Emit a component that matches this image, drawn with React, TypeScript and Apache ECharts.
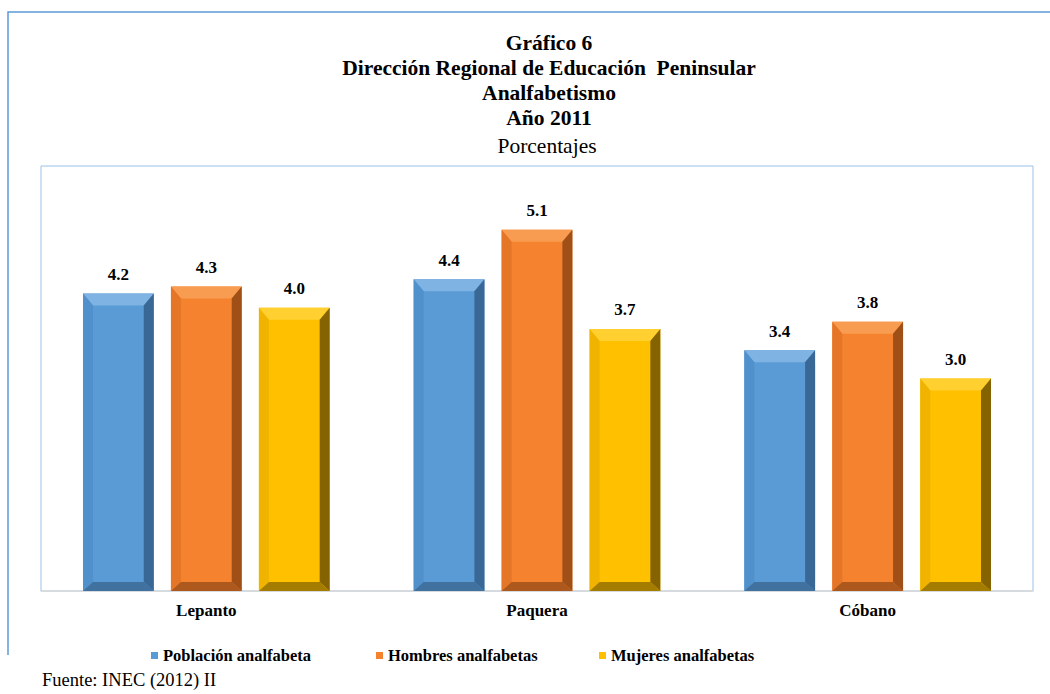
import React, { useEffect, useRef } from "react";
import * as echarts from "echarts";

const categories = ["Lepanto", "Paquera", "Cóbano"];
const seriesNames = ["Población analfabeta", "Hombres analfabetas", "Mujeres analfabetas"];
const poblacion = [4.2, 4.4, 3.4];
const hombres = [4.3, 5.1, 3.8];
const mujeres = [4.0, 3.7, 3.0];
const titleLines = ["Gráfico 6", "Dirección Regional de Educación  Peninsular", "Analfabetismo", "Año 2011"];
const subtitle = "Porcentajes";
const source = "Fuente: INEC (2012) II";

const palettes = [
  { face: "#5b9bd5", top: "#7fb3e4", left: "#5090cb", right: "#3a6896", bottom: "#41719f" },
  { face: "#f5822e", top: "#f89c52", left: "#e57628", right: "#a04f17", bottom: "#ad581c" },
  { face: "#ffc000", top: "#ffd030", left: "#f0b400", right: "#846300", bottom: "#a47c00" },
];

const SERIF = "Liberation Serif";

export default function App() {
  const ref = useRef<HTMLDivElement>(null);
  useEffect(() => {
    if (!ref.current) return;
    const chart = echarts.init(ref.current, undefined, { renderer: "svg" });
    const allValues = [poblacion, hombres, mujeres];

    const makeSeries = (s: number) => ({
      type: "custom",
      name: seriesNames[s],
      itemStyle: { color: palettes[s].face },
      encode: { x: 0, y: 1 },
      data: allValues[s].map((v, i) => [i, v]),
      renderItem: (params: any, api: any) => {
        const i = api.value(0);
        const v = api.value(1);
        const top = api.coord([i, v]);
        const base = api.coord([i, 0]);
        const band = api.size([1, 0])[0];
        const w = band * 0.214;
        const cx = top[0] + (s - 1) * band * 0.266;
        const x0 = cx - w / 2;
        const x1 = cx + w / 2;
        const y0 = top[1];
        const y1 = base[1];
        const h = y1 - y0;
        const bt = Math.min(12, h / 3);
        const bb = Math.min(9, h / 3);
        const bs = 10;
        const p = palettes[s];
        return {
          type: "group",
          children: [
            { type: "rect", shape: { x: x0, y: y0, width: w, height: h }, style: { fill: p.face } },
            { type: "polygon", shape: { points: [[x0, y0], [x1, y0], [x1 - bs, y0 + bt], [x0 + bs, y0 + bt]] }, style: { fill: p.top } },
            { type: "polygon", shape: { points: [[x0, y0], [x0 + bs, y0 + bt], [x0 + bs, y1 - bb], [x0, y1]] }, style: { fill: p.left } },
            { type: "polygon", shape: { points: [[x1, y0], [x1, y1], [x1 - bs, y1 - bb], [x1 - bs, y0 + bt]] }, style: { fill: p.right } },
            { type: "polygon", shape: { points: [[x0, y1], [x0 + bs, y1 - bb], [x1 - bs, y1 - bb], [x1, y1]] }, style: { fill: p.bottom } },
            {
              type: "text",
              style: {
                text: v.toFixed(1),
                x: cx,
                y: y0 - 19,
                align: "center",
                verticalAlign: "middle",
                fill: "#000",
                fontFamily: SERIF,
                fontWeight: "bold",
                fontSize: 17,
              },
            },
          ],
        };
      },
    });

    const legendLefts = [146, 371, 594];

    chart.setOption({
      animation: false,
      backgroundColor: "#ffffff",
      grid: {
        left: 41,
        top: 166,
        right: 17,
        bottom: 103,
        show: true,
        borderColor: "#9cc2e8",
        borderWidth: 1,
      },
      xAxis: {
        type: "category",
        data: categories,
        axisLine: { show: true, lineStyle: { color: "#d9d9d9", width: 1.5 } },
        axisTick: { show: false },
        axisLabel: {
          margin: 11,
          color: "#000",
          fontFamily: SERIF,
          fontWeight: "bold",
          fontSize: 17,
        },
      },
      yAxis: {
        type: "value",
        min: 0,
        max: 6,
        show: false,
        splitLine: { show: false },
      },
      legend: seriesNames.map((n, k) => ({
        data: [n],
        left: legendLefts[k],
        top: 642,
        icon: "rect",
        itemWidth: 7,
        itemHeight: 7,
        itemGap: 4,
        textStyle: { color: "#000", fontFamily: SERIF, fontWeight: "bold", fontSize: 16.5 },
      })),
      graphic: [
        {
          type: "polyline",
          shape: { points: [[8, 655], [8, 12], [1050, 12]] },
          style: { stroke: "#5b9bd5", lineWidth: 1.5, fill: "none" },
          silent: true,
        },
        ...titleLines.map((t, k) => ({
          type: "text",
          style: {
            text: t,
            x: 549,
            y: 43 + k * 25,
            align: "center",
            verticalAlign: "middle",
            fill: "#000",
            fontFamily: SERIF,
            fontWeight: "bold",
            fontSize: 21.5,
          },
        })),
        {
          type: "text",
          style: {
            text: subtitle,
            x: 547,
            y: 146,
            align: "center",
            verticalAlign: "middle",
            fill: "#000",
            fontFamily: SERIF,
            fontSize: 21.5,
          },
        },
        {
          type: "text",
          style: {
            text: source,
            x: 42,
            y: 680,
            align: "left",
            verticalAlign: "middle",
            fill: "#000",
            fontFamily: SERIF,
            fontSize: 18.5,
          },
        },
      ],
      series: [0, 1, 2].map(makeSeries),
    });
    return () => chart.dispose();
  }, []);
  return <div ref={ref} style={{ position: "fixed", left: 0, top: 0, width: 1050, height: 694 }} />;
}
